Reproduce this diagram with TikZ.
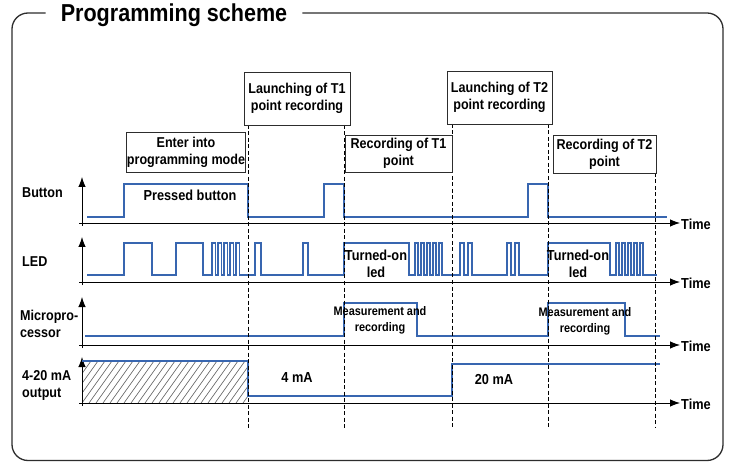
\documentclass[tikz,border=0pt]{standalone}
\usepackage{fontspec}
\setmainfont{Liberation Sans}[FakeStretch=0.88]
\usetikzlibrary{arrows.meta}
\definecolor{sigblue}{RGB}{56,102,176}
\definecolor{boxgray}{RGB}{45,45,45}
\definecolor{hatchgray}{RGB}{95,95,95}

\begin{document}
\begin{tikzpicture}[
		x=1pt, y=-1pt,
		sig/.style={draw=sigblue,line width=1.6pt},
		axis/.style={black,line width=0.8pt,-{Latex[length=10pt,width=7.5pt]}},
		guide/.style={black,line width=0.7pt,dash pattern=on 4pt off 2.5pt},
		hatch/.style={draw=hatchgray,line width=0.6pt},
		frame/.style={draw=boxgray,line width=1.3pt,rounded corners=16pt},
		labelbox/.style={draw=boxgray,line width=0.9pt,inner sep=0pt,align=center,
			font=\bfseries\fontsize{14.3}{17}\selectfont},
		txt/.style={inner sep=0pt,align=center,font=\bfseries\fontsize{14.5}{17}\selectfont},
		smalltxt/.style={inner sep=0pt,align=center,font=\bfseries\fontsize{12.4}{16}\selectfont},
		rowlabel/.style={inner sep=0pt,anchor=west,align=left,font=\bfseries\fontsize{14.3}{17}\selectfont},
		titletext/.style={inner xsep=15pt,inner ysep=0pt,font=\bfseries\fontsize{24.5}{28}\selectfont}
	]
		\path[use as bounding box,fill=white] (0,0) rectangle (733,462);
		\node[titletext,anchor=base] (title) at (174,22) {Programming scheme};
		\coordinate (ftop) at (0,13);
		\draw[frame] (title.west |- ftop) -- (12,13) -- (12,460.5) -- (723,460.5)
			-- (723,13) -- (title.east |- ftop);

		\begin{scope}
			\clip (82,361) rectangle (248,403);
			\foreach \x in {40,47,...,250}
				\draw[hatch] (\x,403) -- ++(30,-42);
		\end{scope}

		\foreach \top/\base in {177/223,237/282,297/345,357/403} {
			\draw[axis] (82,\base+3) -- (82,\top);
			\draw[axis] (79,\base) -- (680,\base);
		}
		\foreach \y/\n in {223/timeA,282/timeB,345/timeC,403/timeD}
			\node[txt,anchor=west] (\n) at (681,\y+1) {Time};

		\draw[sig] (87,217) -| (124,184) -| (248,217) -| (324,184) -| (344,217)
			-| (528,184) -| (548,217) -- (667,217);
		\draw[sig] (87,275) -| (124,243) -| (152,275) -| (176,243) -| (203,275)
			\foreach \x in {212,218,224,230,236} { -- (\x,275) -- (\x,243) -- (\x+3.5,243) -- (\x+3.5,275) }
			-- (255,275) -- (255,243) -- (261,243) -- (261,275)
			-- (303,275) -- (303,243) -- (308,243) -- (308,275)
			-- (344,275) -- (344,243) -- (409,243) -- (409,275)
			\foreach \x in {415,421,427,433,439} { -- (\x,275) -- (\x,243) -- (\x+3,243) -- (\x+3,275) }
			\foreach \x in {460,468,507,515} { -- (\x,275) -- (\x,243) -- (\x+4,243) -- (\x+4,275) }
			-- (548,275) -- (548,243) -- (610,243) -- (610,275)
			\foreach \x in {616,622,628,634,640} { -- (\x,275) -- (\x,243) -- (\x+3,243) -- (\x+3,275) }
			-- (657,275);
		\draw[sig] (85,336) -| (344,303) -| (417,336) -| (548,303) -| (625,336) -- (660,336);
		\draw[sig] (82,361) -| (248,396) -| (452,364) -- (660,364);

		\foreach \x/\y in {248/125,344/125,452/124,548/124,655/173}
			\draw[guide] (\x,\y) -- (\x,428);

		\node[labelbox,minimum width=106,minimum height=53] (launchA) at (297,98.5)
			{Launching of T1\\point recording};
		\node[labelbox,minimum width=105,minimum height=53] (launchB) at (499.5,97.5)
			{Launching of T2\\point recording};
		\node[labelbox,minimum width=116,minimum height=40] (enterbox) at (186,152)
			{Enter into\\programming mode};
		\node[labelbox,minimum width=107,minimum height=37] (recA) at (398.5,153.5)
			{Recording of T1\\point};
		\node[labelbox,minimum width=103,minimum height=38] (recB) at (604.5,154)
			{Recording of T2\\point};

		\node[rowlabel] (lbButton) at (22,193) {Button};
		\node[rowlabel] (lbLed) at (22,262) {LED};
		\node[rowlabel] (lbMpu) at (20,324) {Micropro-\\cessor};
		\node[rowlabel] (lbOut) at (22,385) {4-20 mA\\output};

		\node[txt] (pressed) at (190,195) {Pressed button};
		\node[txt] (onA) at (376,264) {Turned-on\\led};
		\node[txt] (onB) at (578,264) {Turned-on\\led};
		\node[smalltxt] (measA) at (380,320) {Measurement and\\recording};
		\node[smalltxt] (measB) at (585,321) {Measurement and\\recording};
		\node[txt] (lowcur) at (297,378) {4 mA};
		\node[txt] (highcur) at (494,380) {20 mA};
\end{tikzpicture}
\end{document}
